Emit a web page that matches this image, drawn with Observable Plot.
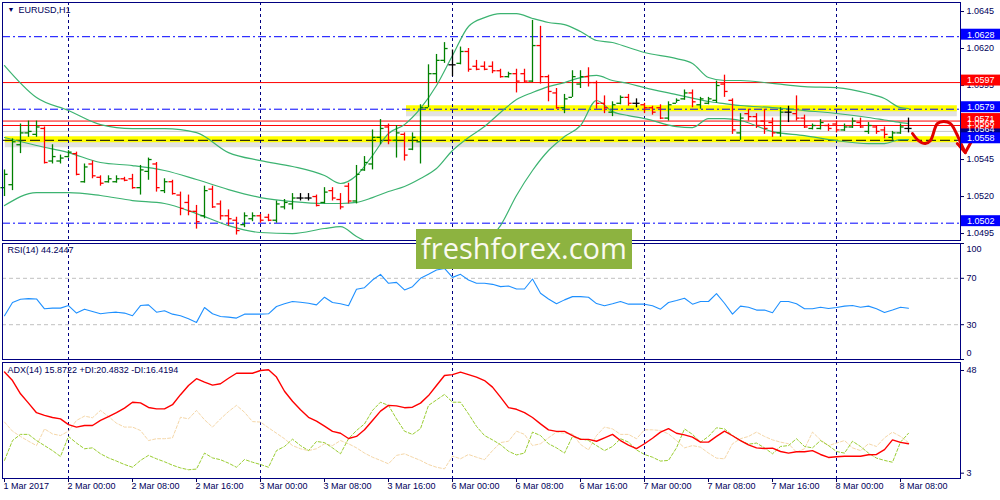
<!DOCTYPE html>
<html>
<head>
<meta charset="utf-8">
<script src="https://cdn.jsdelivr.net/npm/d3@7"></script>
<script src="https://cdn.jsdelivr.net/npm/@observablehq/plot@0.6"></script>
<style>
body { margin: 0; background: #fff; overflow: hidden; }
#chart { position: relative; width: 1000px; height: 500px; }
#chart svg { position: absolute; left: 0; }
#logo {
  position: absolute; left: 416px; top: 229px; width: 216px; height: 40px;
  background: #8db340; color: #fafaf0; font: 29px "Open Sans", sans-serif;
  line-height: 38px; text-align: center; z-index: 5;
}
</style>
</head>
<body>
<div id="chart"><div id="logo">freshforex.com</div></div>
<script>
// EURUSD H1, bar index 0 = 1 Mar 16:00
var open = [1.0526,1.0528,1.0555,1.0563,1.0562,1.0566,1.0544,1.0544,1.0547,1.0549,
  1.0530,1.0542,1.0533,1.0530,1.0530,1.0532,1.0532,1.0526,1.0537,1.0542,
  1.0524,1.0530,1.0521,1.0516,1.0510,1.0507,1.0525,1.0515,1.0507,1.0504,
  1.0501,1.0505,1.0507,1.0506,1.0504,1.0513,1.0515,1.0519,1.0519,1.0520,
  1.0516,1.0524,1.0518,1.0527,1.0517,1.0538,1.0542,1.0560,1.0567,1.0558,
  1.0562,1.0552,1.0557,1.0580,1.0603,1.0612,1.0609,1.0610,1.0618,1.0608,
  1.0608,1.0608,1.0605,1.0601,1.0603,1.0603,1.0598,1.0622,1.0601,1.0590,
  1.0580,1.0587,1.0596,1.0601,1.0597,1.0583,1.0577,1.0583,1.0587,1.0583,
  1.0582,1.0580,1.0580,1.0573,1.0583,1.0586,1.0590,1.0582,1.0583,1.0585,
  1.0596,1.0585,1.0563,1.0576,1.0574,1.0571,1.0570,1.0563,1.0577,1.0576,
  1.0573,1.0566,1.0566,1.0568,1.0569,1.0565,1.0567,1.0570,1.0564,1.0567,
  1.0565,1.0560,1.0563,1.0566];
var high = [1.0538,1.0559,1.0569,1.0571,1.0571,1.0567,1.0555,1.0548,1.0551,1.0550,
  1.0542,1.0544,1.0534,1.0534,1.0534,1.0533,1.0535,1.0541,1.0546,1.0543,
  1.0532,1.0531,1.0523,1.0521,1.0514,1.0527,1.0527,1.0517,1.0511,1.0506,
  1.0509,1.0509,1.0508,1.0508,1.0517,1.0518,1.0522,1.0522,1.0522,1.0521,
  1.0526,1.0526,1.0522,1.0529,1.0541,1.0547,1.0565,1.0572,1.0569,1.0568,
  1.0563,1.0563,1.0582,1.0609,1.0616,1.0624,1.0619,1.0621,1.0620,1.0612,
  1.0611,1.0611,1.0606,1.0604,1.0606,1.0606,1.0639,1.0635,1.0602,1.0593,
  1.0589,1.0605,1.0605,1.0607,1.0598,1.0588,1.0584,1.0588,1.0589,1.0586,
  1.0583,1.0581,1.0582,1.0584,1.0586,1.0592,1.0592,1.0587,1.0587,1.0598,
  1.0602,1.0586,1.0576,1.0579,1.0576,1.0579,1.0573,1.0580,1.0581,1.0588,
  1.0575,1.0569,1.0572,1.0569,1.0571,1.0569,1.0573,1.0573,1.0570,1.0568,
  1.0567,1.0564,1.0569,1.0573];
var low = [1.0520,1.0524,1.0549,1.0560,1.0560,1.0542,1.0542,1.0542,1.0546,1.0534,
  1.0529,1.0532,1.0527,1.0529,1.0529,1.0530,1.0525,1.0521,1.0531,1.0523,
  1.0522,1.0521,1.0507,1.0507,1.0498,1.0505,1.0512,1.0504,1.0500,1.0494,
  1.0499,1.0503,1.0502,1.0503,1.0502,1.0511,1.0511,1.0517,1.0517,1.0513,
  1.0515,1.0517,1.0511,1.0515,1.0515,1.0537,1.0538,1.0555,1.0555,1.0546,
  1.0544,1.0551,1.0542,1.0580,1.0597,1.0610,1.0601,1.0609,1.0604,1.0605,
  1.0605,1.0603,1.0600,1.0600,1.0590,1.0597,1.0597,1.0596,1.0584,1.0579,
  1.0576,1.0587,1.0593,1.0594,1.0579,1.0576,1.0574,1.0582,1.0581,1.0580,
  1.0576,1.0575,1.0572,1.0571,1.0583,1.0585,1.0580,1.0579,1.0582,1.0583,
  1.0587,1.0562,1.0558,1.0571,1.0566,1.0562,1.0560,1.0560,1.0570,1.0571,
  1.0566,1.0565,1.0565,1.0564,1.0563,1.0564,1.0566,1.0566,1.0562,1.0562,
  1.0559,1.0558,1.0562,1.0563];
var close = [1.0535,1.0557,1.0563,1.0564,1.0567,1.0543,1.0547,1.0546,1.0550,1.0535,
  1.0540,1.0534,1.0529,1.0532,1.0532,1.0531,1.0526,1.0538,1.0545,1.0526,
  1.0530,1.0522,1.0512,1.0510,1.0503,1.0524,1.0513,1.0507,1.0505,1.0497,
  1.0507,1.0507,1.0504,1.0504,1.0515,1.0516,1.0519,1.0519,1.0519,1.0514,
  1.0523,1.0519,1.0513,1.0517,1.0535,1.0543,1.0560,1.0566,1.0558,1.0563,
  1.0548,1.0560,1.0580,1.0603,1.0612,1.0620,1.0609,1.0618,1.0606,1.0606,
  1.0606,1.0605,1.0601,1.0603,1.0598,1.0598,1.0622,1.0601,1.0591,1.0580,
  1.0586,1.0601,1.0601,1.0597,1.0583,1.0580,1.0582,1.0587,1.0583,1.0583,
  1.0580,1.0577,1.0573,1.0582,1.0585,1.0590,1.0584,1.0586,1.0586,1.0595,
  1.0591,1.0565,1.0573,1.0574,1.0568,1.0566,1.0563,1.0577,1.0577,1.0573,
  1.0567,1.0568,1.0570,1.0566,1.0565,1.0567,1.0571,1.0567,1.0568,1.0564,
  1.0562,1.0563,1.0567,1.0566];

// Bollinger bands, sampled bars
var bandIdx = [0,4,8,12,16,20,24,28,32,36,40,42,44,46,48,50,52,54,56,58,60,62,64,66,68,70,72,74,76,78,80,84,86,88,90,92,96,100,104,108,110,112,113];
var bandUpper = [1.06085,1.05869,1.05781,1.05686,1.05659,1.05659,1.05632,1.05497,1.05443,1.05403,1.05342,1.05288,1.05342,1.05477,1.05626,1.05686,1.05795,1.0595,1.06153,1.06349,1.06409,1.06436,1.06436,1.06403,1.06376,1.06362,1.06315,1.06254,1.06241,1.06207,1.06173,1.06132,1.06099,1.06004,1.05984,1.05984,1.05964,1.05943,1.05936,1.05896,1.05862,1.05801,1.05795];
var bandMiddle = [1.05599,1.05545,1.05497,1.0543,1.05409,1.05376,1.05315,1.05247,1.05193,1.05166,1.05153,1.05153,1.0516,1.05193,1.05234,1.05268,1.05322,1.05389,1.05511,1.05599,1.05673,1.05768,1.05855,1.05903,1.05943,1.0597,1.06004,1.06018,1.05984,1.05964,1.05936,1.05889,1.05865,1.05842,1.05828,1.05815,1.05801,1.05781,1.05761,1.05734,1.05717,1.057,1.05693];
var bandLower = [1.05139,1.05227,1.05227,1.05207,1.05173,1.05153,1.05085,1.05004,1.04957,1.0495,1.04984,1.04997,1.0493,1.04876,1.04835,1.04808,1.04795,1.04788,1.04801,1.04835,1.04882,1.05004,1.05207,1.05376,1.05511,1.05605,1.0568,1.05849,1.05774,1.05747,1.05727,1.05673,1.05666,1.05727,1.05727,1.05714,1.05639,1.05612,1.05578,1.05558,1.05558,1.05585,1.05585];

var rsi = [37.7,49.1,52.0,52.5,52.2,43.7,44.3,44.3,46.5,40.0,
  43.4,41.4,39.4,40.3,40.8,40.0,37.7,46.5,47.1,40.8,
  42.0,39.1,37.7,35.1,32.0,44.8,39.4,37.1,36.5,35.7,
  39.1,39.1,39.1,39.4,45.7,48.0,50.0,49.4,48.5,47.1,
  53.7,49.1,48.0,46.3,60.5,61.9,68.5,73.4,65.7,66.5,
  60.0,62.8,70.0,73.4,77.1,78.5,70.8,73.4,68.5,65.7,
  65.7,64.8,62.8,63.4,60.8,60.8,69.4,57.1,52.2,48.0,
  51.4,54.2,54.2,53.7,48.2,46.3,48.0,50.0,47.7,47.7,
  47.7,46.3,43.4,49.1,50.8,52.8,47.7,50.0,50.0,56.8,
  48.5,39.1,46.0,45.1,42.6,42.6,40.3,50.0,50.0,48.0,
  43.7,43.7,45.1,43.9,44.8,46.0,46.5,45.1,46.0,43.7,
  40.5,42.6,45.1,44.2];
var adx = [47.3,43.6,37.8,33.7,29.5,28.3,27.4,26.8,24.3,23.2,
  23.9,23.9,26.1,27.8,29.5,31.5,34.1,33.8,31.8,31.2,
  31.2,33.0,37.4,41.4,44.4,42.9,41.6,42.2,44.6,46.8,
  46.8,46.8,48.0,48.3,45.1,38.9,34.5,30.8,27.5,25.8,
  23.6,21.3,20.5,18.2,19.1,22.0,26.1,30.2,32.7,32.5,
  31.7,31.9,33.7,37.0,41.4,45.8,46.2,47.3,46.2,45.1,
  43.6,40.7,36.3,31.7,31.0,29.5,27.4,24.6,22.0,21.3,
  21.3,19.5,17.8,17.8,17.0,18.5,20.0,17.3,15.3,13.8,
  15.9,18.3,21.0,22.5,20.5,19.8,18.8,16.6,16.6,19.1,
  21.4,19.4,17.3,15.4,14.1,13.8,14.0,12.5,11.8,12.4,
  12.4,12.9,11.2,9.9,10.2,10.4,10.4,10.4,11.1,11.2,
  13.3,17.6,16.5,15.9];
var plusDI = [8.6,17.3,20.0,20.0,17.3,15.1,12.9,10.3,19.1,16.2,
  13.7,14.1,11.5,9.7,8.3,6.8,5.6,8.6,10.8,9.3,
  8.0,6.5,5.3,4.5,4.8,11.8,9.7,8.9,7.4,5.6,
  9.0,7.8,6.8,5.6,12.9,14.7,17.9,15.1,12.9,16.9,
  16.4,14.1,11.5,18.1,21.7,24.6,30.5,34.1,32.7,26.8,
  21.4,20.0,22.5,32.7,35.1,37.5,34.1,34.1,29.0,23.5,
  19.5,17.6,15.5,12.6,11.0,11.8,21.0,19.5,15.9,14.1,
  11.8,19.1,18.1,17.3,15.1,12.9,14.7,18.1,16.6,13.2,
  11.2,10.0,8.3,8.6,14.1,22.4,20.0,16.6,19.1,22.9,
  22.4,19.5,17.3,15.7,16.2,14.1,11.5,14.7,15.1,18.1,
  14.7,14.1,17.3,15.1,12.5,11.8,17.0,14.7,11.8,9.6,
  8.6,7.8,16.6,20.5];
var minusDI = [25.4,21.4,19.1,17.0,15.1,22.4,20.2,19.5,21.4,26.1,
  28.0,27.3,30.5,27.8,24.9,23.2,23.2,21.7,17.3,18.1,
  18.1,18.5,27.5,26.8,30.5,26.4,23.2,26.8,30.0,32.7,
  29.7,25.6,25.4,22.9,20.5,18.1,15.1,13.7,12.9,13.7,
  15.9,15.1,17.3,15.9,14.1,11.8,10.0,8.6,7.1,10.8,
  11.5,10.0,8.6,6.8,5.6,4.9,10.5,9.3,11.2,10.0,
  8.9,12.9,16.4,17.0,21.4,20.0,15.1,15.9,18.5,21.0,
  20.5,20.2,15.6,13.2,19.5,23.2,22.4,20.0,20.0,18.1,
  22.0,22.0,21.7,20.2,17.3,14.1,15.1,14.4,11.8,9.6,
  9.3,15.9,18.1,19.1,21.0,19.1,17.6,16.6,15.9,12.2,
  13.7,21.0,17.6,15.1,16.2,17.3,14.1,12.9,15.9,14.7,
  18.5,21.0,19.1,16.4];

// horizontal levels drawn on the chart
var levelPrice = [1.0628, 1.0597, 1.0579, 1.0571, 1.0564, 1.0568, 1.0558, 1.0502];
var levelStyle = ["dashdot", "red", "dashdot", "red", "bid", "red", "dashed", "dashdot"];
var levelBox = ["#0000ff", "#ff0000", "#0000ff", "#ff0000", "#000080", "#ff0000", "#0000ff", "#0000ff"];
var yellowLevel = [1.0579, 1.0558];
var yellowFrom = [50.25, 0.1];
var yellowTo = [119.1, 119.1];

// hand drawn forecast
var fcX = [113.5, 114.25, 115.1, 115.75, 116.6, 117.4, 118.25, 119, 119.5, 120.1];
var fcY = [1.05626, 1.05578, 1.05558, 1.05578, 1.05693, 1.05707, 1.05693, 1.05626, 1.05565, 1.05497];
var arrowX = [119.1, 120.1, 121];
var arrowY = [1.05558, 1.05497, 1.05585];

var priceTicks = [1.0495, 1.0520, 1.0545, 1.0570, 1.0595, 1.0620, 1.0645];
var dayIdx = [8, 32, 56, 80, 104];
var labelIdx = [0, 8, 16, 24, 32, 40, 48, 56, 64, 72, 80, 88, 96, 104, 112];
var xLabels = ["1 Mar 2017", "2 Mar 00:00", "2 Mar 08:00", "2 Mar 16:00", "3 Mar 00:00",
  "3 Mar 08:00", "3 Mar 16:00", "6 Mar 00:00", "6 Mar 08:00", "6 Mar 16:00",
  "7 Mar 00:00", "7 Mar 08:00", "7 Mar 16:00", "8 Mar 00:00", "8 Mar 08:00"];

var navy = "#000080";
var xDomain = [-0.25, 119.5];
var fmt = d3.format(".4f");

var bars = open.map((o, i) => ({
  i, open: o, high: high[i], low: low[i], close: close[i],
  color: close[i] > o ? "#008000" : close[i] < o ? "#ff0000" : "#000000"
}));
var bands = bandIdx.map((i, k) => ({i, upper: bandUpper[k], middle: bandMiddle[k], lower: bandLower[k]}));
var levels = levelPrice.map((p, k) => ({p, style: levelStyle[k], box: levelBox[k]}));
var ind = rsi.map((r, i) => ({i, rsi: r, adx: adx[i], plus: plusDI[i], minus: minusDI[i]}));

var common = {
  width: 1000, marginLeft: 2, marginRight: 40,
  style: {fontFamily: "Liberation Sans, Arial, sans-serif", fontSize: "9px", color: "#00005a", background: "transparent", overflow: "visible"}
};
var grid = Plot.ruleX(dayIdx, {stroke: navy, strokeDasharray: "3,3", strokeWidth: 1, shapeRendering: "crispEdges"});

var price = Plot.plot({
  ...common, height: 242, marginTop: 2, marginBottom: 2,
  x: {domain: xDomain, axis: null},
  y: {domain: [1.04903, 1.06511], axis: "right", ticks: priceTicks, tickFormat: fmt, tickSize: 3, tickPadding: 3, label: null},
  color: {type: "identity"},
  marks: [
    Plot.ruleY(yellowLevel, {y: d => d, x1: (d, k) => yellowFrom[k], x2: (d, k) => yellowTo[k], stroke: "#777", strokeOpacity: 0.22, strokeWidth: 6, dy: 4}),
    Plot.ruleY(yellowLevel, {y: d => d, x1: (d, k) => yellowFrom[k], x2: (d, k) => yellowTo[k], stroke: "#ffff00", strokeWidth: 6, dy: -1}),
    grid,
    Plot.ruleY(levels.filter(d => d.style === "dashdot"), {y: "p", stroke: "#0000ff", strokeDasharray: "8,3,2,3"}),
    Plot.ruleY(levels.filter(d => d.style === "red"), {y: "p", stroke: "#ff0000"}),
    Plot.ruleY(levels.filter(d => d.style === "bid"), {y: "p", stroke: "#c8c8c8"}),
    Plot.ruleY(levels.filter(d => d.style === "dashed"), {y: "p", stroke: "#000", strokeDasharray: "10,4"}),
    Plot.line(bands, {x: "i", y: "upper", stroke: "#3cb371", strokeWidth: 1.2, curve: "monotone-x", clip: true}),
    Plot.line(bands, {x: "i", y: "middle", stroke: "#3cb371", strokeWidth: 1.2, curve: "monotone-x", clip: true}),
    Plot.line(bands, {x: "i", y: "lower", stroke: "#3cb371", strokeWidth: 1.2, curve: "monotone-x", clip: true}),
    Plot.ruleX(bars, {x: "i", y1: "low", y2: "high", stroke: "color", strokeWidth: 1.3}),
    Plot.ruleY(bars, {y: "open", x1: d => d.i - 0.45, x2: "i", stroke: "color", strokeWidth: 1.3}),
    Plot.ruleY(bars, {y: "close", x1: "i", x2: d => d.i + 0.45, stroke: "color", strokeWidth: 1.3}),
    Plot.line(fcX.map((x, k) => ({x, y: fcY[k]})), {x: "x", y: "y", stroke: "#e00000", strokeWidth: 3, curve: "catmull-rom"}),
    Plot.line(arrowX.map((x, k) => ({x, y: arrowY[k]})), {x: "x", y: "y", stroke: "#e00000", strokeWidth: 3}),
    Plot.rect(levels, {x1: 119.6, x2: 124.6, y1: d => d.p - 0.00037, y2: d => d.p + 0.00037, fill: "box", dy: -2}),
    Plot.text(levels, {x: 120.3, y: "p", text: d => fmt(d.p), fill: "white", textAnchor: "start", dy: -2}),
    Plot.text(["\u25BC"], {frameAnchor: "top-left", dx: 5, dy: 5, lineAnchor: "top", fontSize: 7, fill: "#00005a"}),
    Plot.text(["EURUSD,H1"], {frameAnchor: "top-left", dx: 16, dy: 4, lineAnchor: "top", fill: "#00005a"}),
    Plot.frame({stroke: navy})
  ]
});

var rsiPlot = Plot.plot({
  ...common, height: 118, marginTop: 1, marginBottom: 1,
  x: {domain: xDomain, axis: null},
  y: {domain: [0, 100], axis: "right", ticks: [0, 30, 70, 100], tickFormat: d => (d === 30 || d === 70) ? d : "", tickSize: 3, tickPadding: 3, label: null},
  marks: [
    Plot.ruleY([30, 70], {stroke: "#c0c0c0", strokeDasharray: "4,3"}),
    grid,
    Plot.line(ind, {x: "i", y: "rsi", stroke: "#1e90ff", strokeWidth: 1.1}),
    Plot.text([100], {y: d => d, text: d => d, frameAnchor: "right", dx: 6, dy: 6, textAnchor: "start"}),
    Plot.text([0], {y: d => d, text: d => d, frameAnchor: "right", dx: 6, dy: -6, textAnchor: "start"}),
    Plot.text(["RSI(14) 44.2447"], {frameAnchor: "top-left", dx: 5, dy: 3, lineAnchor: "top"}),
    Plot.frame({stroke: navy})
  ]
});

var adxPlot = Plot.plot({
  ...common, height: 139, marginTop: 1, marginBottom: 22,
  x: {domain: xDomain, axis: "bottom", ticks: labelIdx, tickFormat: () => "", tickSize: 4, label: null},
  y: {domain: [0.67, 51.5], axis: "right", ticks: [3, 48], tickSize: 3, tickPadding: 3, label: null},
  marks: [
    grid,
    Plot.line(ind, {x: "i", y: "minus", stroke: "#f5d7a8", strokeWidth: 1, strokeDasharray: "3,2"}),
    Plot.line(ind, {x: "i", y: "plus", stroke: "#9acd32", strokeWidth: 1, strokeDasharray: "3,2"}),
    Plot.line(ind, {x: "i", y: "adx", stroke: "#ff0000", strokeWidth: 1.4}),
    Plot.text(labelIdx, {x: d => d, text: (d, k) => xLabels[k], frameAnchor: "bottom", dy: 10, dx: -1, textAnchor: "start"}),
    Plot.text(["ADX(14) 15.8722 +DI:20.4832 -DI:16.4194"], {frameAnchor: "top-left", dx: 5, dy: 4, lineAnchor: "top"}),
    Plot.frame({stroke: navy})
  ]
});

var chart = document.getElementById("chart");
price.style.top = "0px";
rsiPlot.style.top = "242px";
adxPlot.style.top = "361px";
chart.append(price, rsiPlot, adxPlot);
</script>
</body>
</html>
